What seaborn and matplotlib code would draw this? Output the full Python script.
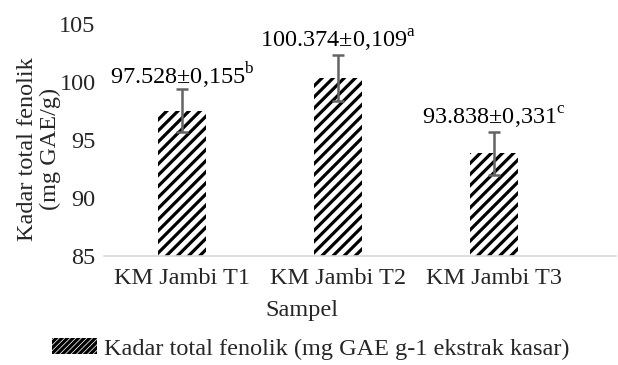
import pandas as pd
import seaborn as sns
import matplotlib.pyplot as plt
from matplotlib.patches import Patch

samples = ["KM Jambi T1", "KM Jambi T2", "KM Jambi T3"]
phenolic = [97.528, 100.374, 93.838]
err_bars = [1.86, 1.98, 1.86]
sd_text = ["0,155", "0,109", "0,331"]
letters = ["b", "a", "c"]

df = pd.DataFrame({"Sampel": samples, "Fenolik": phenolic})

sns.set_theme(style="white")
plt.rcParams["font.family"] = ["Liberation Serif", "DejaVu Serif"]
plt.rcParams["mathtext.fontset"] = "custom"
plt.rcParams["mathtext.rm"] = "Liberation Serif"
plt.rcParams["hatch.linewidth"] = 2.3
fs = 17.5

fig = plt.figure(figsize=(6.18, 3.65), dpi=100)
ax = fig.add_axes([104 / 618, 1 - 256 / 365, 512 / 618, 232 / 365])

sns.barplot(data=df, x="Sampel", y="Fenolik", ax=ax, color="white",
            width=0.31, edgecolor="black", linewidth=0, errorbar=None)
for bar in ax.patches:
    bar.set_hatch("///")
    bar.set_facecolor("white")

ax.errorbar(range(len(samples)), phenolic, yerr=err_bars, fmt="none",
            ecolor="#646464", elinewidth=1.8, capsize=4.3, capthick=1.8)

for i, (v, e, s, l) in enumerate(zip(phenolic, err_bars, sd_text, letters)):
    ax.annotate(f"{v:.3f}±{s}" + r"$^{\mathrm{" + l + "}}$", (i, v + e),
                xytext=(0, 10), textcoords="offset points",
                ha="center", va="center", fontsize=fs, color="black")

ax.set_ylim(85, 105)
ax.set_yticks([85, 90, 95, 100, 105])
ax.set_xlim(-0.5, 2.78)
ax.set_xticks([-0.5, 0.5, 1.5, 2.5], minor=True)
ax.tick_params(axis="x", which="minor", length=7, color="#d9d9d9", width=1.2)
ax.tick_params(axis="x", which="major", length=0, pad=9, labelsize=fs)
ax.tick_params(axis="y", length=0, pad=6, labelsize=fs)

for side in ["left", "right", "top"]:
    ax.spines[side].set_visible(False)
ax.spines["bottom"].set_color("#d9d9d9")
ax.spines["bottom"].set_linewidth(1.2)

ax.set_xlabel("Sampel", fontsize=fs)
ax.xaxis.set_label_coords(0.387, -0.19)
ax.set_ylabel("Kadar total fenolik\n(mg GAE/g)", fontsize=fs, linespacing=1.1)
ax.yaxis.set_label_coords(-0.084, 0.46)

handle = Patch(facecolor="white", edgecolor="black", linewidth=0, hatch="//////",
               label="Kadar total fenolik (mg GAE g-1 ekstrak kasar)")
fig.legend(handles=[handle], loc="center left",
           bbox_to_anchor=(52 / 618, 1 - 349 / 365), frameon=False,
           fontsize=fs, borderpad=0, borderaxespad=0,
           handlelength=1.85, handleheight=0.6, handletextpad=0.3)

fig.savefig("out.png", dpi=100)
